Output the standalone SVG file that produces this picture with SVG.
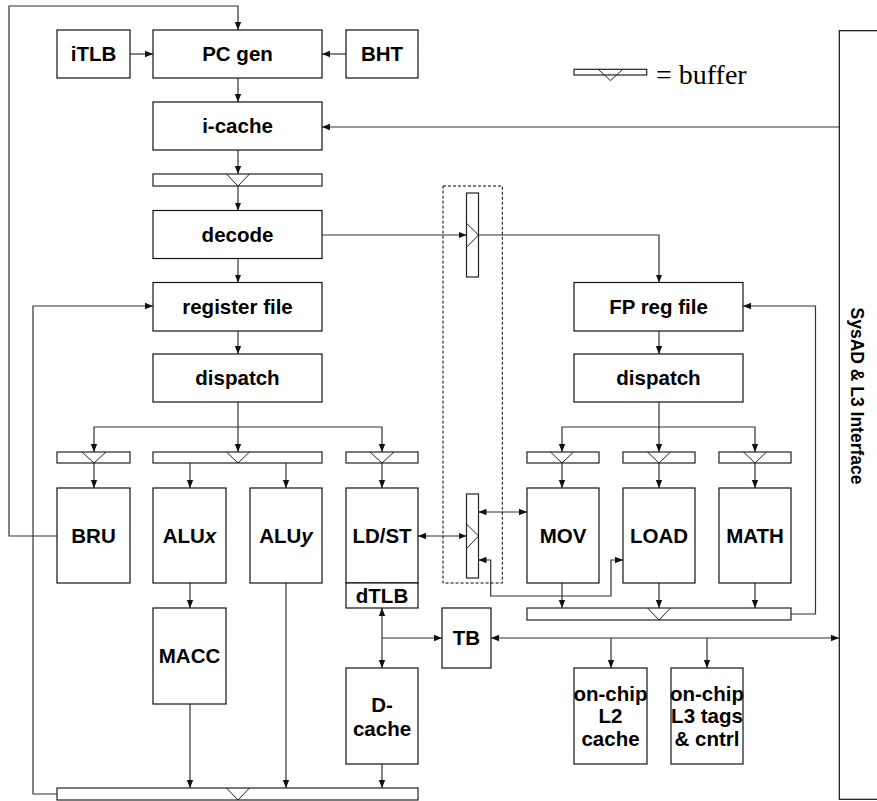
<svg xmlns="http://www.w3.org/2000/svg" width="877" height="801" viewBox="0 0 877 801">
<defs>
<marker id="ah" markerUnits="userSpaceOnUse" markerWidth="8" markerHeight="8" viewBox="0 0 8 8" refX="8" refY="4" orient="auto-start-reverse">
<path d="M0,0.8 L8,4 L0,7.2 Z" fill="#111"/>
</marker>
<style>
.box{fill:#fff;stroke:#111;stroke-width:1.2}
.buf{fill:#fff;stroke:#222;stroke-width:1.2}
.tri{fill:none;stroke:#222;stroke-width:1}
.c{fill:none;stroke:#333;stroke-width:1.2}
.a{marker-end:url(#ah)}
.b{marker-start:url(#ah);marker-end:url(#ah)}
.t{font-family:"Liberation Sans",Arial,sans-serif;font-weight:bold;font-size:20.5px;text-anchor:middle;fill:#000}
.dash{fill:none;stroke:#000;stroke-width:1;stroke-dasharray:3,2}
</style>
</defs>
<rect width="877" height="801" fill="#fff"/>

<g id="connectors">
<polyline class="c a" points="57,536 9,536 9,6 238,6 238,30"/>
<line class="c a" x1="130" y1="54" x2="153" y2="54"/>
<line class="c a" x1="346" y1="54" x2="322" y2="54"/>
<line class="c a" x1="238" y1="78" x2="238" y2="102"/>
<line class="c a" x1="839" y1="127" x2="322" y2="127"/>
<line class="c a" x1="238" y1="150" x2="238" y2="174"/>
<line class="c a" x1="238" y1="186" x2="238" y2="210.5"/>
<line class="c a" x1="238" y1="258.5" x2="238" y2="282.5"/>
<line class="c a" x1="238" y1="331" x2="238" y2="354"/>
<line class="c a" x1="238" y1="402" x2="238" y2="452"/>
<polyline class="c a" points="238,427 94,427 94,452"/>
<polyline class="c a" points="238,427 382,427 382,452"/>
<line class="c a" x1="94" y1="463" x2="94" y2="488"/>
<line class="c a" x1="190" y1="463" x2="190" y2="488"/>
<line class="c a" x1="286" y1="463" x2="286" y2="488"/>
<line class="c a" x1="382" y1="463" x2="382" y2="488"/>
<line class="c a" x1="190" y1="583" x2="190" y2="608"/>
<line class="c a" x1="190" y1="704" x2="190" y2="788"/>
<line class="c a" x1="286" y1="583" x2="286" y2="788"/>
<line class="c a" x1="382" y1="764" x2="382" y2="788"/>
<polyline class="c a" points="57,794 33,794 33,306 153,306"/>
<line class="c b" x1="382" y1="608" x2="382" y2="668"/>
<line class="c a" x1="382" y1="638" x2="442" y2="638"/>
<line class="c b" x1="491" y1="638" x2="839" y2="638"/>
<line class="c a" x1="611" y1="638" x2="611" y2="668"/>
<line class="c a" x1="707" y1="638" x2="707" y2="668"/>
<line class="c a" x1="322" y1="235" x2="466.5" y2="235"/>
<polyline class="c a" points="478.5,235 659,235 659,282.5"/>
<line class="c a" x1="659" y1="331" x2="659" y2="354"/>
<line class="c a" x1="659" y1="402" x2="659" y2="452"/>
<polyline class="c a" points="659,427 562,427 562,452"/>
<polyline class="c a" points="659,427 755,427 755,452"/>
<line class="c a" x1="562" y1="463" x2="562" y2="488"/>
<line class="c a" x1="659" y1="463" x2="659" y2="488"/>
<line class="c a" x1="755" y1="463" x2="755" y2="488"/>
<line class="c a" x1="562" y1="583" x2="562" y2="608"/>
<line class="c a" x1="659" y1="583" x2="659" y2="608"/>
<line class="c a" x1="755" y1="583" x2="755" y2="608"/>
<polyline class="c a" points="791,614 815.5,614 815.5,306 743,306"/>
<line class="c b" x1="418" y1="536" x2="466.5" y2="536"/>
<line class="c b" x1="478.5" y1="512" x2="527" y2="512"/>
<polyline class="c b" points="478.5,560 490.7,560 490.7,596 611,596 611,560 623,560"/>
</g>

<g id="legend">
<rect class="buf" x="574" y="69.3" width="72.7" height="5.7"/>
<polyline class="tri" points="598.3,69.3 610.5,80.7 622.7,69.3"/>
<text x="656" y="83.5" style="font-family:'Liberation Serif','Times New Roman',serif;font-size:28px;fill:#000">= buffer</text>
</g>

<g id="dashed-group"><rect class="dash" x="443" y="186" width="59.3" height="397"/></g>

<g id="iTLB"><rect class="box" x="57" y="30" width="73" height="48"/><text class="t" x="93.5" y="61">iTLB</text></g>
<g id="PCgen"><rect class="box" x="153" y="30" width="169" height="48"/><text class="t" x="237.5" y="61">PC gen</text></g>
<g id="BHT"><rect class="box" x="346" y="30" width="72" height="48"/><text class="t" x="382" y="61">BHT</text></g>
<g id="icache"><rect class="box" x="153" y="102" width="169" height="48"/><text class="t" x="237.5" y="133">i-cache</text></g>
<g id="buf1"><rect class="buf" x="153" y="174" width="169" height="12"/><polyline class="tri" points="226.5,174 238,186 249.5,174"/></g>
<g id="decode"><rect class="box" x="153" y="210.5" width="169" height="48"/><text class="t" x="237.5" y="241.5">decode</text></g>
<g id="regfile"><rect class="box" x="153" y="282.5" width="169" height="48.5"/><text class="t" x="237.5" y="313.5">register file</text></g>
<g id="dispatch"><rect class="box" x="153" y="354" width="169" height="48"/><text class="t" x="237.5" y="385">dispatch</text></g>

<g id="bufBRU"><rect class="buf" x="57" y="452" width="73" height="11"/><polyline class="tri" points="82,452 94,463 106,452"/></g>
<g id="bufALU"><rect class="buf" x="153" y="452" width="169" height="11"/><polyline class="tri" points="226.5,452 238,463 249.5,452"/></g>
<g id="bufLDST"><rect class="buf" x="346" y="452" width="72" height="11"/><polyline class="tri" points="370,452 382,463 394,452"/></g>

<g id="BRU"><rect class="box" x="57" y="488" width="73" height="95"/><text class="t" x="93.5" y="543">BRU</text></g>
<g id="ALUx"><rect class="box" x="153" y="488" width="73" height="95"/><text class="t" x="189.5" y="543">ALU<tspan font-style="italic">x</tspan></text></g>
<g id="ALUy"><rect class="box" x="250" y="488" width="72" height="95"/><text class="t" x="286" y="543">ALU<tspan font-style="italic">y</tspan></text></g>
<g id="LDST"><rect class="box" x="346" y="488" width="72" height="95"/><text class="t" x="382" y="543">LD/ST</text></g>
<g id="dTLB"><rect class="box" x="346" y="583" width="72" height="25"/><text class="t" x="382" y="603">dTLB</text></g>
<g id="MACC"><rect class="box" x="153" y="608" width="73" height="96"/><text class="t" x="189.5" y="663">MACC</text></g>
<g id="Dcache"><rect class="box" x="346" y="668" width="72" height="96"/><text class="t" x="382" y="711.5">D-</text><text class="t" x="382" y="735.5">cache</text></g>
<g id="TB"><rect class="box" x="442" y="608" width="49" height="60"/><text class="t" x="466.5" y="645">TB</text></g>
<g id="bufBottom"><rect class="buf" x="57" y="788" width="361" height="12"/><polyline class="tri" points="226.5,788 238,800 249.5,788"/></g>

<g id="vbufTop"><rect class="buf" x="466.5" y="193" width="12" height="84"/><polyline class="tri" points="466.5,223.3 478.5,235 466.5,247.3"/></g>
<g id="vbufBottom"><rect class="buf" x="466.5" y="494" width="12" height="84"/><polyline class="tri" points="466.5,524 478.5,536 466.5,548.7"/></g>

<g id="FPregfile"><rect class="box" x="574" y="282.5" width="169" height="48.5"/><text class="t" x="658.5" y="313.5">FP reg file</text></g>
<g id="FPdispatch"><rect class="box" x="574" y="354" width="169" height="48"/><text class="t" x="658.5" y="385">dispatch</text></g>
<g id="bufMOV"><rect class="buf" x="527" y="452" width="72" height="11"/><polyline class="tri" points="550.5,452 562,463 573.5,452"/></g>
<g id="bufLOAD"><rect class="buf" x="623" y="452" width="72" height="11"/><polyline class="tri" points="647.5,452 659,463 670.5,452"/></g>
<g id="bufMATH"><rect class="buf" x="719" y="452" width="72" height="11"/><polyline class="tri" points="743.5,452 755,463 766.5,452"/></g>
<g id="MOV"><rect class="box" x="527" y="488" width="72" height="95"/><text class="t" x="563" y="543">MOV</text></g>
<g id="LOAD"><rect class="box" x="623" y="488" width="72" height="95"/><text class="t" x="659" y="543">LOAD</text></g>
<g id="MATH"><rect class="box" x="719" y="488" width="72" height="95"/><text class="t" x="755" y="543">MATH</text></g>
<g id="bufFP"><rect class="buf" x="527" y="608" width="264" height="12"/><polyline class="tri" points="647.5,608 659,620 670.5,608"/></g>
<g id="L2"><rect class="box" x="574" y="668" width="73" height="96"/><text class="t" x="610.5" y="700.5">on-chip</text><text class="t" x="610.5" y="723">L2</text><text class="t" x="610.5" y="745.5">cache</text></g>
<g id="L3"><rect class="box" x="671" y="668" width="72" height="96"/><text class="t" x="707" y="700.5">on-chip</text><text class="t" x="707" y="723">L3 tags</text><text class="t" x="707" y="745.5">&amp; cntrl</text></g>
<g id="SysAD"><rect class="box" x="839.3" y="30.7" width="45" height="768.6"/><text class="t" transform="translate(857,396) rotate(90)" y="6" style="font-size:17.5px">SysAD &amp; L3 Interface</text></g>
</svg>
